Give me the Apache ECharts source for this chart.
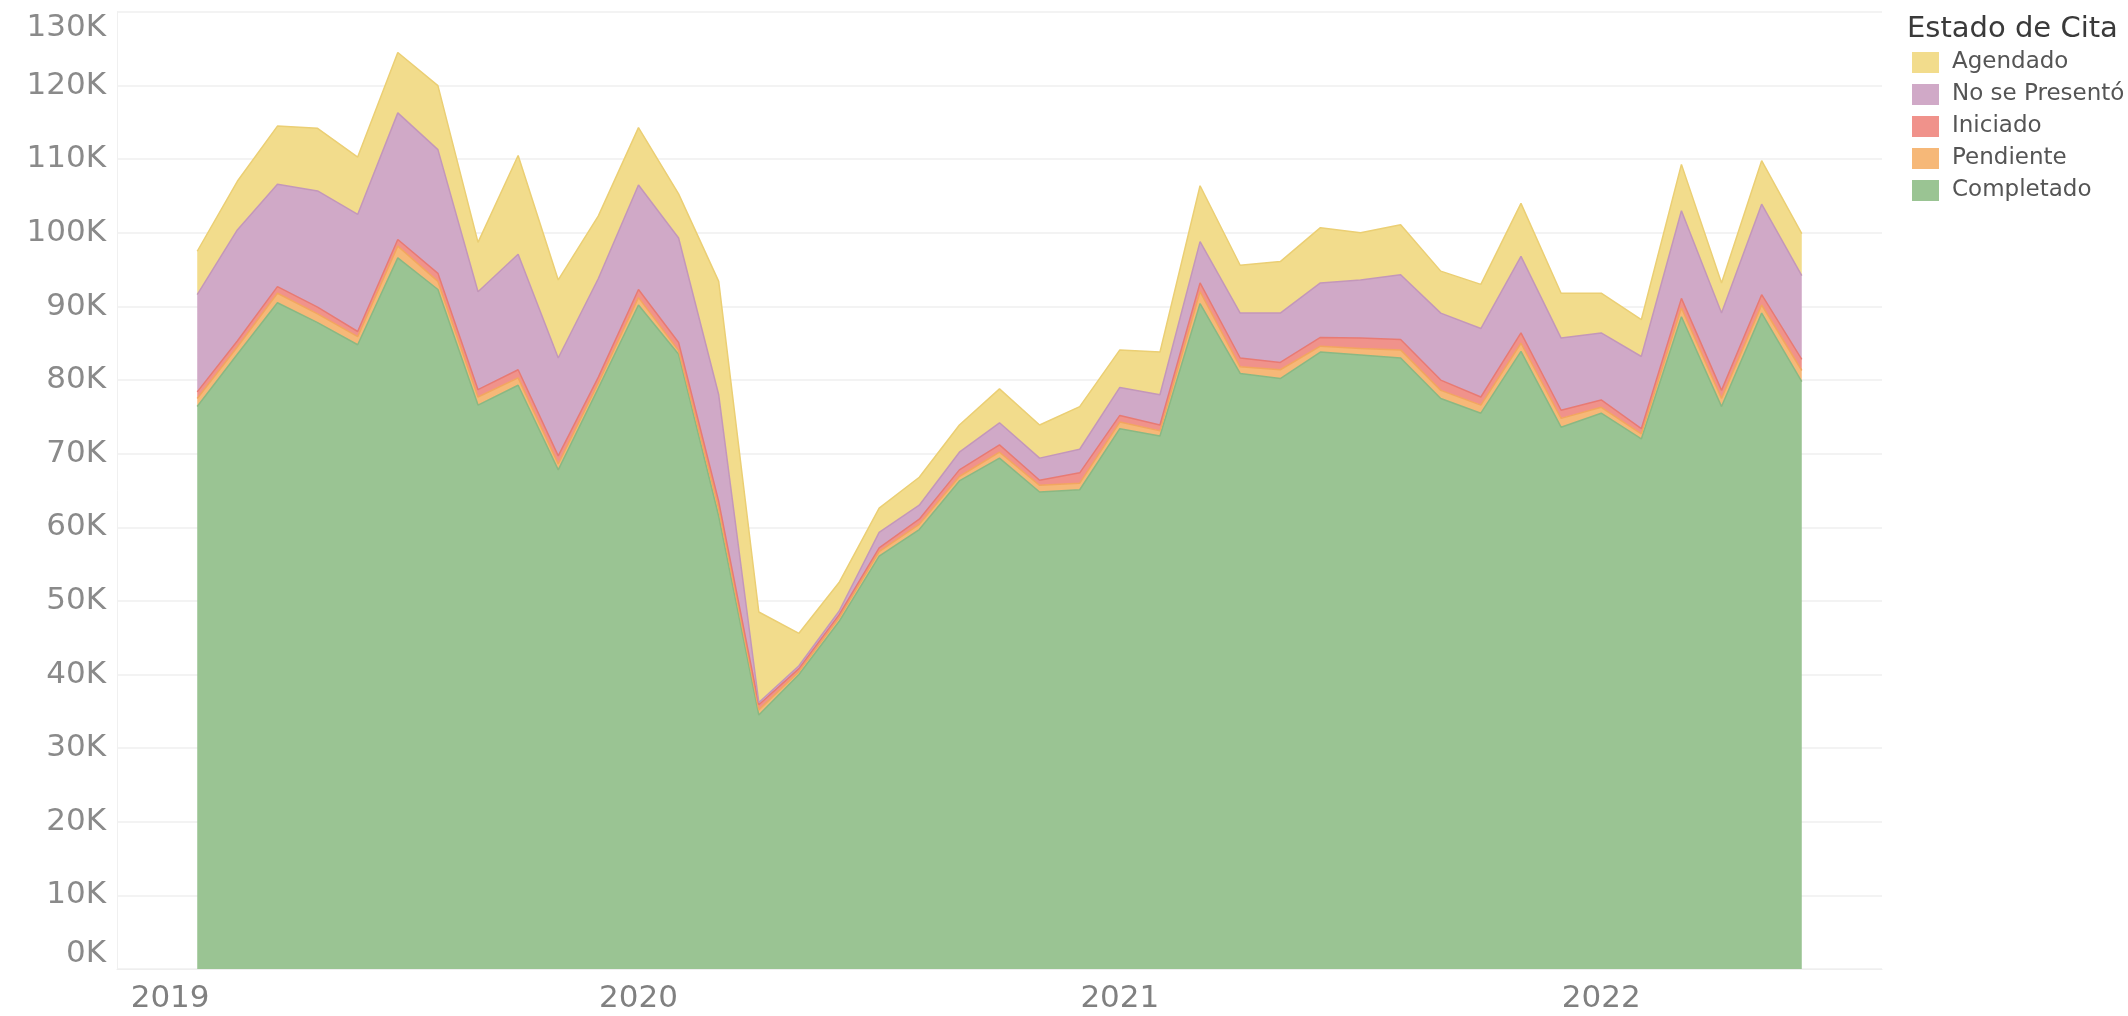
<!DOCTYPE html>
<html>
<head>
<meta charset="utf-8">
<script src="https://cdn.jsdelivr.net/npm/echarts@6/dist/echarts.min.js"></script>
<style>
  html, body { margin: 0; padding: 0; background: #fff; }
  #chart { width: 2128px; height: 1016px; }
</style>
</head>
<body>
<div id="chart"></div>
<script>
var months = [
  '2019-02', '2019-03', '2019-04', '2019-05', '2019-06', '2019-07', '2019-08', '2019-09', '2019-10', '2019-11', '2019-12',
  '2020-01', '2020-02', '2020-03', '2020-04', '2020-05', '2020-06', '2020-07', '2020-08', '2020-09', '2020-10', '2020-11', '2020-12',
  '2021-01', '2021-02', '2021-03', '2021-04', '2021-05', '2021-06', '2021-07', '2021-08', '2021-09', '2021-10', '2021-11', '2021-12',
  '2022-01', '2022-02', '2022-03', '2022-04', '2022-05', '2022-06'
];
// empty months either side so the axis runs Dec 2018 - Aug 2022
var padBefore = ['2018-12', '2019-01'];
var padAfter = ['2022-07', '2022-08'];
var completado = [76400, 83500, 90500, 87800, 84800, 96600, 92300, 76600, 79300, 67800, 78900, 90200, 83500, 61500, 34500, 40000, 47200, 56100, 59700, 66300, 69400, 64800, 65100, 73400, 72400, 90400, 80900, 80200, 83800, 83400, 83000, 77500, 75500, 83900, 73600, 75500, 72000, 88600, 76400, 89100, 79800];
var pendiente = [1100, 1000, 1300, 1200, 1100, 1600, 1100, 1100, 1000, 800, 700, 1000, 500, 1000, 700, 400, 500, 600, 700, 600, 800, 900, 900, 900, 700, 1600, 900, 1200, 800, 900, 1100, 1100, 1100, 1100, 1200, 800, 700, 1200, 1100, 1100, 1500];
var iniciado = [900, 800, 900, 900, 700, 900, 1100, 1000, 1100, 1100, 800, 1100, 1100, 1000, 700, 400, 400, 500, 700, 900, 1000, 700, 1400, 900, 800, 1200, 1200, 1000, 1200, 1400, 1400, 1400, 1100, 1400, 1100, 1000, 700, 1300, 1100, 1400, 1500];
var noPresento = [13200, 15100, 13900, 15800, 15900, 17200, 16800, 13300, 15700, 13300, 13400, 14200, 14200, 14500, 300, 400, 500, 2100, 1900, 2400, 3000, 3000, 3200, 3800, 4100, 5600, 6100, 6700, 7400, 7900, 8800, 9100, 9300, 10400, 9800, 9100, 9800, 11900, 10500, 12300, 11400];
var agendado = [5900, 6600, 7900, 8500, 7800, 8200, 8700, 6700, 13400, 10600, 8500, 7800, 6000, 15400, 12300, 4400, 3900, 3300, 3800, 3700, 4600, 4500, 5800, 5100, 5800, 7600, 6500, 7000, 7500, 6400, 6800, 5700, 6000, 7200, 6100, 5400, 5000, 6300, 4100, 5900, 5700];

var categories = padBefore.concat(months, padAfter);

function padded(values) {
  return padBefore.map(function () { return null; })
    .concat(values, padAfter.map(function () { return null; }));
}

function layer(name, values, fill, edge) {
  return {
    name: name,
    type: 'line',
    stack: 'total',
    symbol: 'none',
    silent: true,
    data: padded(values),
    itemStyle: { color: fill },
    lineStyle: { width: 1.5, color: edge },
    areaStyle: { color: fill, opacity: 1 }
  };
}

var axisFont = 'DejaVu Sans';

echarts.init(document.getElementById('chart'), null, { renderer: 'canvas' }).setOption({
  animation: false,
  grid: { left: 117, right: 246, top: 12, bottom: 47 },
  title: {
    text: 'Estado de Cita',
    left: 1902,
    top: 10,
    textStyle: { fontFamily: axisFont, fontSize: 29, fontWeight: 'normal', color: '#3a3a3a' }
  },
  legend: {
    orient: 'vertical',
    left: 1907,
    top: 46,
    icon: 'rect',
    itemWidth: 27,
    itemHeight: 21,
    itemGap: 9,
    selectedMode: false,
    data: ['Agendado', 'No se Presentó', 'Iniciado', 'Pendiente', 'Completado'],
    itemStyle: { borderWidth: 0 },
    textStyle: { fontFamily: axisFont, fontSize: 23, color: '#555', padding: [0, 0, 0, 8] }
  },
  xAxis: {
    type: 'category',
    boundaryGap: false,
    data: categories,
    axisLine: { show: true, lineStyle: { color: '#eeeeee', width: 1 } },
    axisTick: { show: false },
    splitLine: { show: false },
    axisLabel: {
      margin: 14,
      fontFamily: axisFont,
      fontSize: 31,
      color: '#808080',
      interval: function (index, value) {
        return value.slice(5) === '01';
      },
      // the first year is nudged inside the plot, as in the original
      formatter: function (value) {
        var year = value.slice(0, 4);
        return year === '2019' ? '{first|' + year + '}' : year;
      },
      rich: {
        first: { fontFamily: axisFont, fontSize: 31, color: '#808080', padding: [0, 0, 0, 26] }
      }
    }
  },
  yAxis: {
    type: 'value',
    min: 0,
    max: 130000,
    interval: 10000,
    axisLine: { show: true, lineStyle: { color: '#f0f0f0', width: 1 } },
    axisTick: { show: false },
    splitLine: { lineStyle: { color: '#efefef', width: 1.5 } },
    axisLabel: {
      margin: 11,
      fontFamily: axisFont,
      fontSize: 31,
      color: '#8a8a8a',
      verticalAlignMinLabel: 'bottom',
      verticalAlignMaxLabel: 'top',
      formatter: function (v) {
        return (v / 1000) + 'K';
      }
    }
  },
  series: [
    layer('Completado', completado, '#9ac493', '#8ab883'),
    layer('Pendiente', pendiente, '#f6b878', '#f2a65f'),
    layer('Iniciado', iniciado, '#f0928b', '#e87a73'),
    layer('No se Presentó', noPresento, '#d0a9c7', '#c397ba'),
    layer('Agendado', agendado, '#f2dc8c', '#ebcf74')
  ]
});
</script>
</body>
</html>
